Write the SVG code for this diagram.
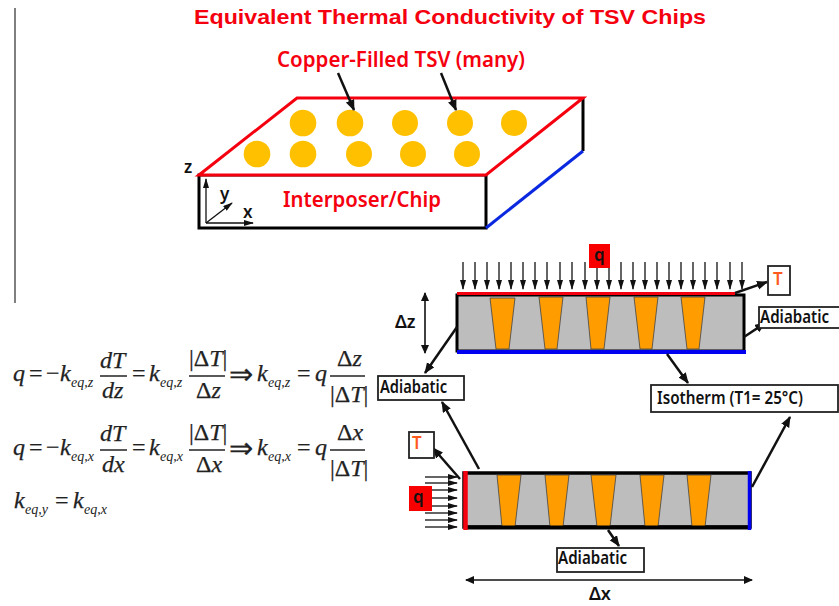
<svg xmlns="http://www.w3.org/2000/svg" width="839" height="606" viewBox="0 0 839 606">
<style>
.sans{font-family:"Noto Sans","Open Sans","Liberation Sans",sans-serif;font-weight:600}
.red{fill:#f5000f}
.lbl{font-size:17px;fill:#111}
.box{fill:#fff;stroke:#222;stroke-width:1.8}
.qb{fill:#f80000}
.gray{fill:#bdbdbd}
.cu{fill:#ff9c00;stroke:#444;stroke-width:.8}
.tsv{fill:#ffc000}
.c{stroke:#111;stroke-width:2.5;fill:none;marker-end:url(#a)}
.t{stroke:#111;stroke-width:1.3;fill:none;marker-end:url(#s)}
.m{font-family:"Liberation Serif",serif;font-size:24px;font-style:italic;fill:#222;stroke:#222;stroke-width:.25}
.u{font-family:"Liberation Serif",serif;font-size:24px;fill:#222;stroke:#222;stroke-width:.25}
.n{font-family:"Liberation Serif",serif;font-size:14px;font-style:italic;fill:#222}
.f{stroke:#222;stroke-width:1.5}
</style>
<defs>
<marker id="a" markerWidth="12" markerHeight="10" refX="10" refY="4.5" orient="auto" markerUnits="userSpaceOnUse"><path d="M0 0L11 4.500L0 9z" fill="#111"/></marker>
<marker id="s" markerWidth="11" markerHeight="8" refX="9" refY="3" orient="auto" markerUnits="userSpaceOnUse"><path d="M0 0L10 3L0 6z" fill="#111"/></marker>
<marker id="b" markerWidth="12" markerHeight="10" refX="1" refY="4" orient="auto" markerUnits="userSpaceOnUse"><path d="M9 0L0 4L9 8z" fill="#111"/></marker>
<marker id="e" markerWidth="12" markerHeight="10" refX="8" refY="4" orient="auto" markerUnits="userSpaceOnUse"><path d="M0 0L9 4L0 8z" fill="#111"/></marker>
</defs>
<rect width="839" height="606" fill="#fff"/>
<line x1="15" y1="8" x2="15" y2="303" stroke="#808080" stroke-width="2"/>
<text id="title" x="194" y="24" font-family="Liberation Sans,Arial,sans-serif" font-weight="700" font-size="21" class="red" textLength="512" lengthAdjust="spacingAndGlyphs">Equivalent Thermal Conductivity of TSV Chips</text>

<g id="chip">
<path d="M199 175H486V228H199Z" fill="#fff" stroke="#000" stroke-width="3"/>
<path d="M583 98V151" stroke="#000" stroke-width="3"/>
<path d="M486 228L583 151" stroke="#0a28e0" stroke-width="3"/>
<path d="M199 175L297 98H583L486 175Z" fill="#fff" stroke="#f5000f" stroke-width="3"/>
<g class="tsv">
<circle cx="303" cy="123" r="13.3"/><circle cx="350" cy="123" r="13.300"/><circle cx="405" cy="123" r="13"/><circle cx="460" cy="123" r="13"/><circle cx="514" cy="123" r="13"/>
<circle cx="257" cy="154" r="13.3"/><circle cx="303" cy="154" r="13.300"/><circle cx="359" cy="154" r="13"/><circle cx="413" cy="154" r="13"/><circle cx="467" cy="154" r="13"/>
</g>
<text x="283" y="207" font-size="21" class="sans red" textLength="158" lengthAdjust="spacingAndGlyphs">Interposer/Chip</text>
<text x="184" y="173" class="sans lbl">z</text>
<text x="220" y="200" class="sans lbl">y</text>
<text x="243" y="218" class="sans lbl">x</text>
</g>
<text id="tsv-label" x="277" y="67" font-size="21" class="sans red" textLength="248" lengthAdjust="spacingAndGlyphs">Copper-Filled TSV (many)</text>

<g id="slab-z">
<rect x="457" y="295" width="287" height="56" class="gray" stroke="#000" stroke-width="3"/>
<path d="M490 298H515L509 349H496Z M539 297H563L557 349H545Z M586 297H610L604 349H591Z M634 297H658L652 349H640Z M681 297H705L699 349H687Z" class="cu"/>
<path d="M457 293.5H735" stroke="#f5000f" stroke-width="3"/>
<path d="M457 352H746" stroke="#0000f0" stroke-width="4"/>
</g>
<g id="slab-x">
<rect x="464" y="473" width="286" height="54" class="gray" stroke="#000" stroke-width="3.500"/>
<path d="M497 475H521L515 527H502Z M545 475H569L563 527H550Z M591 475H616L610 527H597Z M640 475H664L658 527H645Z M687 475H711L705 527H692Z" class="cu"/>
<path d="M464 527.500H750" stroke="#000" stroke-width="4"/>
<path d="M465.500 471V530" stroke="#f5000f" stroke-width="4.500"/>
<path d="M749.500 471V530" stroke="#0000f0" stroke-width="3.500"/>
</g>

<g id="connectors">
<path class="c" d="M338 73L354 110"/>
<path class="c" d="M441 73L456 110"/>
<path class="t" d="M206 223V179"/>
<path class="t" d="M206 223H253"/>
<path class="t" d="M206 223L232 203"/>
<g id="flux-top">
<path class="t" d="M463 262V289"/><path class="t" d="M475 262V289"/><path class="t" d="M487 262V289"/><path class="t" d="M499 262V289"/><path class="t" d="M511 262V289"/><path class="t" d="M523 262V289"/><path class="t" d="M535 262V289"/><path class="t" d="M547 262V289"/><path class="t" d="M560 262V289"/><path class="t" d="M572 262V289"/><path class="t" d="M585 262V289"/><path class="t" d="M597 262V289"/><path class="t" d="M609 262V289"/><path class="t" d="M621 262V289"/><path class="t" d="M633 262V289"/><path class="t" d="M645 262V289"/><path class="t" d="M657 262V289"/><path class="t" d="M669 262V289"/><path class="t" d="M681 262V289"/><path class="t" d="M693 262V289"/><path class="t" d="M705 262V289"/><path class="t" d="M717 262V289"/><path class="t" d="M730 262V289"/><path class="t" d="M742 262V289"/>
</g>
<g id="flux-left">
<path class="t" d="M425 477H457"/><path class="t" d="M425 483H457"/><path class="t" d="M425 490H457"/><path class="t" d="M425 498H457"/><path class="t" d="M425 506H457"/><path class="t" d="M425 513H457"/><path class="t" d="M425 520H457"/><path class="t" d="M425 527H457"/>
</g>
<path class="c" d="M735 293L767 282"/>
<path class="c" d="M744 337L765 323"/>
<path class="c" d="M457 327L425 373"/>
<path class="c" d="M667 354L688 383"/>
<path class="c" d="M479 469L442 402"/>
<path class="c" d="M460 479L433 448"/>
<path class="c" d="M752 487L790 417"/>
<path class="c" d="M608 530L619 546"/>
<path d="M425 293V353" stroke="#111" stroke-width="1.600" fill="none" marker-start="url(#b)" marker-end="url(#e)"/>
<path d="M466 580H752" stroke="#111" stroke-width="1.600" fill="none" marker-start="url(#b)" marker-end="url(#e)"/>
</g>

<g id="q-top"><rect x="589" y="244" width="21" height="24" class="qb"/><text x="594" y="261" class="sans lbl">q</text></g>
<g id="q-left"><rect x="409" y="486" width="23" height="25" class="qb"/><text x="413" y="503" class="sans lbl">q</text></g>
<g id="t-top"><rect x="768" y="266" width="22" height="29" class="box"/><text x="773" y="285" class="sans" font-size="17" fill="#ff5a1e">T</text></g>
<g id="t-left"><rect x="409" y="432" width="25" height="26" class="box"/><text x="412" y="449" class="sans" font-size="17" fill="#ff5a1e">T</text></g>
<g id="adiabatic-right"><rect x="759" y="307" width="82" height="21" class="box"/><text x="760" y="323" class="sans lbl" textLength="69" lengthAdjust="spacingAndGlyphs">Adiabatic</text></g>
<g id="adiabatic-left"><rect x="378" y="376" width="86" height="24" class="box"/><text x="380" y="393" class="sans lbl" textLength="67" lengthAdjust="spacingAndGlyphs">Adiabatic</text></g>
<g id="adiabatic-bottom"><rect x="557" y="548" width="87" height="24" class="box"/><text x="558" y="564" class="sans lbl" textLength="69" lengthAdjust="spacingAndGlyphs">Adiabatic</text></g>
<g id="isotherm"><rect x="651" y="385" width="187" height="27" class="box"/><text x="657" y="404" class="sans lbl" textLength="146" lengthAdjust="spacingAndGlyphs">Isotherm (T1= 25°C)</text></g>
<text id="dz" x="395" y="328" class="sans" font-size="18" fill="#111">Δz</text>
<text id="dx" x="589" y="600" class="sans" font-size="18" fill="#111">Δx</text>

<g id="equations">
<text x="13" y="381" class="m">q</text><text x="29" y="381" class="u">=</text><text x="46" y="381" class="u">−</text><text x="60" y="381" class="m">k</text><text x="71" y="387" class="n">eq,z</text>
<text x="100" y="368" class="m">dT</text><line x1="100" y1="376" x2="127" y2="376" class="f"/><text x="102" y="398" class="m">dz</text>
<text x="132" y="381" class="u">=</text><text x="149" y="381" class="m">k</text><text x="160" y="387" class="n">eq,z</text>
<text x="189" y="366" class="u">|Δ<tspan class="m">T</tspan>|</text><line x1="189" y1="376" x2="225" y2="376" class="f"/><text x="196" y="398" class="u">Δ<tspan class="m">z</tspan></text>
<text x="229" y="384" class="u" font-size="29" style="font-size:29px">⇒</text><text x="257" y="381" class="m">k</text><text x="268" y="387" class="n">eq,z</text>
<text x="297" y="381" class="u">=</text><text x="315" y="381" class="m">q</text>
<text x="337" y="366" class="u">Δ<tspan class="m">z</tspan></text><line x1="330" y1="376" x2="365" y2="376" class="f"/><text x="330" y="402" class="u">|Δ<tspan class="m">T</tspan>|</text>

<text x="13" y="455" class="m">q</text><text x="29" y="455" class="u">=</text><text x="46" y="455" class="u">−</text><text x="60" y="455" class="m">k</text><text x="71" y="461" class="n">eq,x</text>
<text x="100" y="441" class="m">dT</text><line x1="100" y1="450" x2="127" y2="450" class="f"/><text x="102" y="472" class="m">dx</text>
<text x="132" y="455" class="u">=</text><text x="149" y="455" class="m">k</text><text x="160" y="461" class="n">eq,x</text>
<text x="189" y="440" class="u">|Δ<tspan class="m">T</tspan>|</text><line x1="189" y1="450" x2="225" y2="450" class="f"/><text x="196" y="472" class="u">Δ<tspan class="m">x</tspan></text>
<text x="229" y="458" class="u" style="font-size:29px">⇒</text><text x="257" y="455" class="m">k</text><text x="268" y="461" class="n">eq,x</text>
<text x="297" y="455" class="u">=</text><text x="315" y="455" class="m">q</text>
<text x="337" y="440" class="u">Δ<tspan class="m">x</tspan></text><line x1="330" y1="450" x2="365" y2="450" class="f"/><text x="330" y="476" class="u">|Δ<tspan class="m">T</tspan>|</text>

<text x="14" y="508" class="m">k</text><text x="25" y="514" class="n">eq,y</text><text x="55" y="508" class="u">=</text><text x="73" y="508" class="m">k</text><text x="84" y="514" class="n">eq,x</text>
</g>
</svg>
